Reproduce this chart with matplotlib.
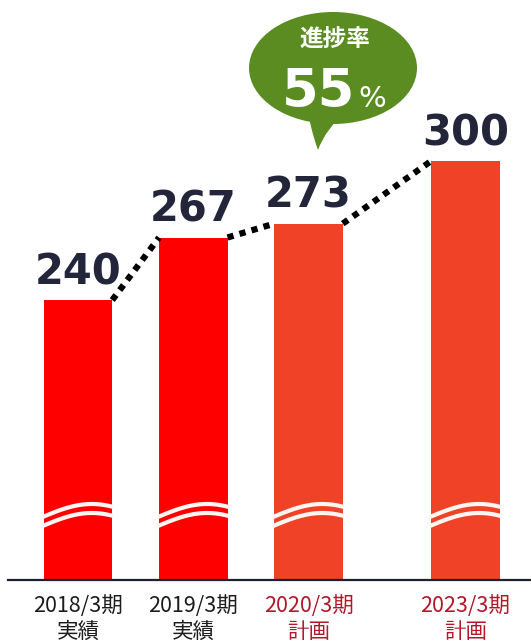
import numpy as np
import matplotlib
matplotlib.use("Agg")
import matplotlib.pyplot as plt
from matplotlib.patches import Ellipse
from matplotlib.path import Path
from matplotlib.patches import PathPatch

plt.rcParams['font.family'] = ['Noto Sans CJK JP', 'DejaVu Sans']

# --- data -------------------------------------------------------------
periods = ["2018/3期", "2019/3期", "2020/3期", "2023/3期"]
kinds = ["実績", "実績", "計画", "計画"]
values = [240, 267, 273, 300]
progress_label = "進捗率"
progress_pct = 55

# --- style ------------------------------------------------------------
actual_color = "#fe0000"
plan_color = "#ef4226"
bar_colors = [actual_color, actual_color, plan_color, plan_color]
label_colors = ["#1c1c1c", "#1c1c1c", "#b3172a", "#b3172a"]
num_color = "#23263a"
bubble_color = "#5a8c22"

positions = np.array([0.0, 1.0, 2.0, 3.36])
bar_w = 0.594
y_floor = 119.2          # value at the (broken) baseline
y_top = 369.5

W, H = 531, 644
fig = plt.figure(figsize=(W / 100, H / 100), dpi=100)
ax = fig.add_axes([0, 64 / H, 1, 580 / H])
ax.set_xlim(-0.677, 3.93)
ax.set_ylim(y_floor, y_top)
ax.axis("off")

# bars start at the broken baseline
heights = [v - y_floor for v in values]
ax.bar(positions, heights, width=bar_w, bottom=y_floor, color=bar_colors,
       linewidth=0, zorder=2)

# wavy white break marks across each bar
px = (y_top - y_floor) / 580.0          # value units per pixel
t = np.linspace(0, 1, 80)
hump = 13 * px * np.sin(np.pi * 0.72 * t)
for p in positions:
    xs = p - bar_w / 2 - 0.01 + (bar_w + 0.02) * t
    base = y_floor + 63 * px
    for off in (0, -9 * px):
        ax.plot(xs, base + off + hump, color="#fff6f2", lw=3.0,
                solid_capstyle="butt", zorder=3)

# dotted connectors between neighbouring bar tops
for i in range(len(values) - 1):
    x0 = positions[i] + bar_w / 2
    x1 = positions[i + 1] - bar_w / 2
    ax.plot([x0, x1], [values[i], values[i + 1]], color="black", lw=4.5,
            linestyle=(0, (1.0, 1.0)), dash_capstyle="butt", zorder=4)

# value labels above the bars
for p, v in zip(positions, values):
    ax.annotate(f"{v}", xy=(p, v), xytext=(0, 11.5), textcoords="offset points",
                ha="center", va="baseline", fontsize=30, fontweight="bold",
                family="DejaVu Sans", color=num_color, zorder=5)

# baseline axis line
ax.axhline(y_floor, xmin=8 / W, xmax=1, color="#1e2130", lw=1.6, zorder=6,
           clip_on=False)

# category labels (two lines each)
for p, per, kind, c in zip(positions, periods, kinds, label_colors):
    ax.annotate(per, xy=(p, 0), xycoords=("data", "axes fraction"),
                xytext=(0, -19), textcoords="offset points",
                ha="center", va="center", fontsize=15.5, color=c,
                annotation_clip=False)
    ax.annotate(kind, xy=(p, 0), xycoords=("data", "axes fraction"),
                xytext=(0, -37.5), textcoords="offset points",
                ha="center", va="center", fontsize=15.5, color=c,
                annotation_clip=False)

# speech bubble with the progress rate (pixel overlay)
ov = fig.add_axes([0, 0, 1, 1], facecolor="none")
ov.set_xlim(0, W)
ov.set_ylim(H, 0)
ov.axis("off")
ov.add_patch(Ellipse((333, 68), 168, 112, color=bubble_color, lw=0, zorder=1))
tail = Path([(307, 105), (310, 128), (318, 150), (326, 128), (348, 110), (307, 105)],
            [Path.MOVETO, Path.CURVE3, Path.CURVE3, Path.CURVE3, Path.CURVE3,
             Path.CLOSEPOLY])
ov.add_patch(PathPatch(tail, color=bubble_color, lw=0, zorder=1))
ov.text(335, 40, progress_label, ha="center", va="center", fontsize=17,
        fontweight="bold", color="white", zorder=2)
ov.text(355, 107, f"{progress_pct}", ha="right", va="baseline", fontsize=38,
        fontweight="bold", family="DejaVu Sans", color="white", zorder=2)
ov.text(358, 107, "%", ha="left", va="baseline", fontsize=21,
        family="DejaVu Sans", color="white", zorder=2)

fig.savefig("out.png", dpi=100, facecolor="white")
